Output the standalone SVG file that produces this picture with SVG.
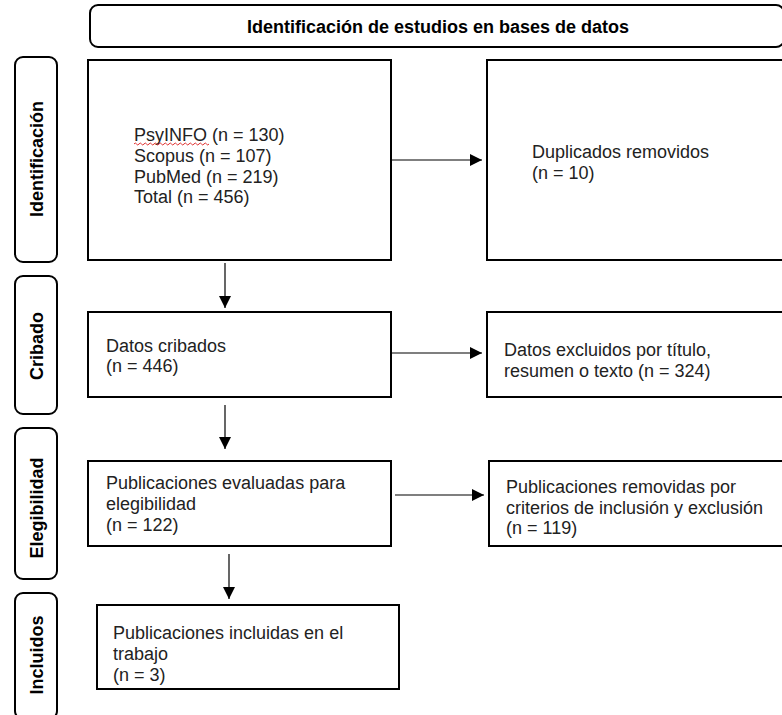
<svg xmlns="http://www.w3.org/2000/svg" width="782" height="715" viewBox="0 0 782 715">
<defs>
<style>
.box{fill:#fff;stroke:#000;stroke-width:2}
.side{fill:#fff;stroke:#000;stroke-width:2}
.t{font-family:"Liberation Sans",Arial,sans-serif;font-size:18px;fill:#222}
.b{font-family:"Liberation Sans",Arial,sans-serif;font-size:18px;font-weight:bold;fill:#000}
.c{stroke:#000;stroke-width:1.2;fill:none;marker-end:url(#ah)}
</style>
<marker id="ah" viewBox="0 0 12 12" refX="12" refY="6" markerWidth="12" markerHeight="12" markerUnits="userSpaceOnUse" orient="auto">
<path d="M0,0 L12,6 L0,12 z" fill="#000"/>
</marker>
</defs>
<rect width="782" height="715" fill="#fff"/>

<g id="header">
<rect class="side" x="90" y="5" width="694" height="42" rx="8"/>
<text class="b" x="438" y="33" text-anchor="middle">Identificación de estudios en bases de datos</text>
</g>

<g id="lane-identificacion">
<rect class="side" x="15" y="57" width="42" height="205" rx="8"/>
<text class="b" transform="translate(43,159) rotate(-90)" text-anchor="middle">Identificación</text>
</g>
<g id="lane-cribado">
<rect class="side" x="15" y="276" width="42" height="138" rx="8"/>
<text class="b" transform="translate(43,346) rotate(-90)" text-anchor="middle">Cribado</text>
</g>
<g id="lane-elegibilidad">
<rect class="side" x="15" y="428" width="42" height="151" rx="8"/>
<text class="b" transform="translate(43,508) rotate(-90)" text-anchor="middle">Elegibilidad</text>
</g>
<g id="lane-incluidos">
<rect class="side" x="15" y="593" width="42" height="126" rx="8"/>
<text class="b" transform="translate(43,655) rotate(-90)" text-anchor="middle">Incluidos</text>
</g>

<g id="n-bases">
<rect class="box" x="88" y="60" width="303" height="200"/>
<text class="t" x="134" y="141">PsyINFO (n = 130)</text>
<text class="t" x="134" y="162">Scopus (n = 107)</text>
<text class="t" x="134" y="183">PubMed (n = 219)</text>
<text class="t" x="134" y="203">Total (n = 456)</text>
<path d="M134,144 q1.25,-2 2.5,0 t2.5,0 t2.5,0 t2.5,0 t2.5,0 t2.5,0 t2.5,0 t2.5,0 t2.5,0 t2.5,0 t2.5,0 t2.5,0 t2.5,0 t2.5,0 t2.5,0 t2.5,0 t2.5,0 t2.5,0 t2.5,0 t2.5,0 t2.5,0 t2.5,0 t2.5,0 t2.5,0 t2.5,0 t2.5,0 t2.5,0 t2.5,0 t2.5,0 t2.5,0" fill="none" stroke="#e03030" stroke-width="1"/>
</g>
<g id="n-duplicados">
<rect class="box" x="487" y="60" width="300" height="200"/>
<text class="t" x="532" y="158">Duplicados removidos</text>
<text class="t" x="532" y="179">(n = 10)</text>
</g>
<g id="n-cribados">
<rect class="box" x="88" y="312" width="303" height="85"/>
<text class="t" x="106" y="352">Datos cribados</text>
<text class="t" x="106" y="372">(n = 446)</text>
</g>
<g id="n-excluidos">
<rect class="box" x="487" y="312" width="300" height="85"/>
<text class="t" x="504" y="356">Datos excluidos por título,</text>
<text class="t" x="504" y="377">resumen o texto (n = 324)</text>
</g>
<g id="n-evaluadas">
<rect class="box" x="88" y="461" width="303" height="85"/>
<text class="t" x="106" y="489">Publicaciones evaluadas para</text>
<text class="t" x="106" y="510">elegibilidad</text>
<text class="t" x="106" y="531">(n = 122)</text>
</g>
<g id="n-removidas">
<rect class="box" x="489" y="461" width="300" height="85"/>
<text class="t" x="506" y="493">Publicaciones removidas por</text>
<text class="t" x="506" y="514">criterios de inclusión y exclusión</text>
<text class="t" x="506" y="534">(n = 119)</text>
</g>
<g id="n-incluidas">
<rect class="box" x="97" y="605" width="302" height="84"/>
<text class="t" x="113" y="639">Publicaciones incluidas en el</text>
<text class="t" x="113" y="660">trabajo</text>
<text class="t" x="113" y="681">(n = 3)</text>
</g>

<g id="connectors">
<line class="c" x1="392" y1="160" x2="482" y2="160"/>
<line class="c" x1="225" y1="263" x2="225" y2="308"/>
<line class="c" x1="392" y1="353" x2="482" y2="353"/>
<line class="c" x1="225" y1="405" x2="225" y2="449"/>
<line class="c" x1="395" y1="495" x2="484" y2="495"/>
<line class="c" x1="229" y1="554" x2="229" y2="599"/>
</g>
</svg>
